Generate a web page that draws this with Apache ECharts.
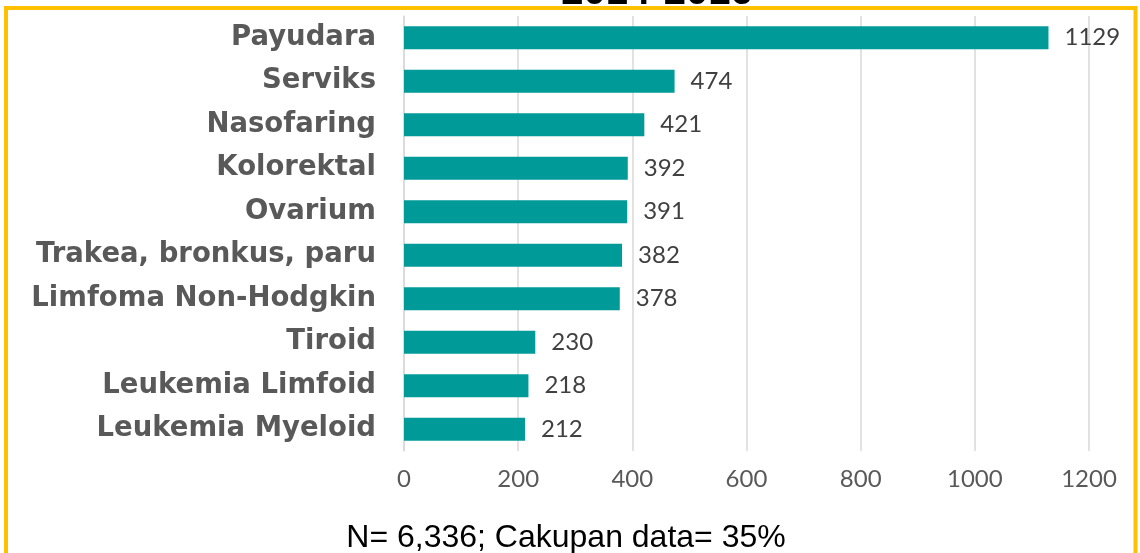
<!DOCTYPE html>
<html>
<head>
<meta charset="utf-8">
<script src="https://cdn.jsdelivr.net/npm/echarts@6/dist/echarts.min.js"></script>
<style>
html,body{margin:0;padding:0;background:#fff;}
#chart{width:1140px;height:553px;}
</style>
</head>
<body>
<div id="chart"></div>
<script>
const categories = ['Payudara','Serviks','Nasofaring','Kolorektal','Ovarium','Trakea, bronkus, paru','Limfoma Non-Hodgkin','Tiroid','Leukemia Limfoid','Leukemia Myeloid'];
const values = [1129, 474, 421, 392, 391, 382, 378, 230, 218, 212];
const xTicks = [0, 200, 400, 600, 800, 1000, 1200];
const titleText = '2014-2016';
const footerText = 'N= 6,336; Cakupan data= 35%';

const chart = echarts.init(document.getElementById('chart'));
chart.setOption({
  animation: false,
  backgroundColor: '#fff',
  grid: {left: 404, right: 51, top: 16, bottom: 102, containLabel: false},
  xAxis: {
    type: 'value', min: xTicks[0], max: xTicks[xTicks.length-1], interval: xTicks[1]-xTicks[0],
    axisLine: {show: false}, axisTick: {show: false},
    splitLine: {lineStyle: {color: '#d9d9d9', width: 1.5}},
    axisLabel: {color: '#595959', fontFamily: 'Lato', fontSize: 24, margin: 16, formatter: v => String(v)}
  },
  yAxis: {
    type: 'category', data: categories, inverse: true,
    axisLine: {show: true, lineStyle: {color: '#d9d9d9', width: 1.5}}, axisTick: {show: false},
    axisLabel: {color: '#595959', fontFamily: 'DejaVu Sans', fontWeight: 'bold', fontSize: 27.5, margin: 28}
  },
  series: [{
    type: 'bar', data: values, barWidth: '53%',
    itemStyle: {color: '#009a99'},
    label: {show: true, position: 'right', distance: 16, color: '#404040', fontFamily: 'Lato', fontSize: 24}
  }],
  graphic: [
    {type: 'text', x: 657, y: 13, style: {text: titleText, fill: '#000', font: 'bold 40px "Liberation Sans"', textAlign: 'center', textVerticalAlign: 'bottom'}, z: 1},
    {type: 'rect', shape: {x: 6, y: 8, width: 1129.5, height: 600}, style: {fill: 'none', stroke: '#FFC000', lineWidth: 4}, z: 10},
    {type: 'text', x: 566, y: 538, style: {text: footerText, fill: '#000', font: '32px "Liberation Sans"', textAlign: 'center', textVerticalAlign: 'middle'}}
  ]
});
</script>
</body>
</html>
